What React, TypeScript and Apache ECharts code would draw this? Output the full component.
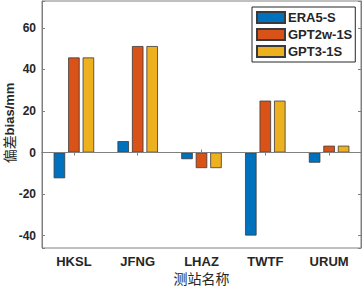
import React, { useEffect, useRef } from "react";
import * as echarts from "echarts";

const categories = ["HKSL", "JFNG", "LHAZ", "TWTF", "URUM"];
const era5 = [-12.4, 5.5, -3.2, -40.0, -4.9];
const gpt2w = [45.8, 51.3, -7.5, 25.0, 3.3];
const gpt3 = [45.8, 51.3, -7.5, 25.0, 3.3];
const seriesNames = ["ERA5-S", "GPT2w-1S", "GPT3-1S"];
const colors = ["#0072BD", "#D95319", "#EDB120"];
const yMin = -46;
const yMax = 73;

export default function App() {
  const ref = useRef<HTMLDivElement>(null);
  useEffect(() => {
    if (!ref.current) return;
    const chart = echarts.init(ref.current, null, { renderer: "svg" });
    const axisColor = "#808080";
    const labelFont = { fontFamily: "Liberation Sans, Arial, sans-serif", fontWeight: "bold" as const, color: "#262626" };
    const fmt = (v: number) => (v % 20 === 0 ? String(v) : "");
    const dataSets = [era5, gpt2w, gpt3];
    chart.setOption({
      animation: false,
      backgroundColor: "#ffffff",
      grid: { left: 42, right: 2, top: 1, bottom: 39, show: true, borderColor: axisColor, borderWidth: 1, backgroundColor: "transparent" },
      legend: {
        orient: "vertical",
        left: 252,
        top: 7,
        padding: [4, 3, 4, 4],
        itemGap: 4,
        itemWidth: 28,
        itemHeight: 11,
        borderColor: "#262626",
        borderWidth: 1,
        backgroundColor: "#ffffff",
        textStyle: { ...labelFont, fontSize: 13, padding: [0, 0, 0, -2] },
        data: seriesNames,
        icon: "rect",
      },
      xAxis: [
        {
          type: "category",
          data: categories,
          position: "bottom",
          axisLine: { show: true, lineStyle: { color: axisColor } },
          axisTick: { show: true, inside: true, length: 3, alignWithLabel: true, lineStyle: { color: axisColor } },
          axisLabel: { ...labelFont, fontSize: 13, margin: 7 },
          splitLine: { show: false },
        },
        {
          type: "category",
          data: categories,
          position: "top",
          axisLine: { show: true, lineStyle: { color: axisColor } },
          axisTick: { show: true, inside: true, length: 3, alignWithLabel: true, lineStyle: { color: axisColor } },
          axisLabel: { show: false },
          splitLine: { show: false },
        },
      ],
      yAxis: [
        {
          type: "value",
          min: yMin,
          max: yMax,
          position: "left",
          axisLine: { show: true, lineStyle: { color: axisColor } },
          axisTick: { show: true, inside: true, length: 3, lineStyle: { color: axisColor } },
          axisLabel: { ...labelFont, fontSize: 12, margin: 6, formatter: fmt, showMinLabel: true, showMaxLabel: true },
          splitLine: { show: false },
        },
        {
          type: "value",
          min: yMin,
          max: yMax,
          position: "right",
          axisLine: { show: true, lineStyle: { color: axisColor } },
          axisTick: { show: true, inside: true, length: 3, lineStyle: { color: axisColor } },
          axisLabel: { show: false },
          splitLine: { show: false },
        },
      ],
      series: seriesNames.map((name, i) => ({
        name,
        type: "bar",
        data: dataSets[i],
        barWidth: 11.5,
        barGap: "26%",
        itemStyle: { color: colors[i], borderColor: "#3a3a3a", borderWidth: 0.8 },
        ...(i === 0
          ? {
              markLine: {
                silent: true,
                symbol: "none",
                label: { show: false },
                lineStyle: { color: axisColor, type: "solid", width: 1 },
                data: [{ yAxis: 0 }],
              },
            }
          : {}),
      })),
      graphic: [
        {
          type: "text",
          x: 9,
          y: 123,
          rotation: Math.PI / 2,
          style: {
            text: "{a|偏差}{b|bias/mm}",
            align: "center",
            verticalAlign: "middle",
            rich: {
              a: { fontFamily: "Noto Sans CJK SC", fontSize: 14, fill: "#262626" },
              b: { fontFamily: "Liberation Sans, Arial, sans-serif", fontWeight: "bold", fontSize: 13, fill: "#262626" },
            },
          },
        },
        {
          type: "text",
          x: 201.5,
          y: 278,
          style: {
            text: "测站名称",
            align: "center",
            verticalAlign: "middle",
            fontFamily: "Noto Sans CJK SC",
            fontSize: 14,
            lineHeight: 14,
            fill: "#262626",
          },
        },
      ],
    });
    return () => chart.dispose();
  }, []);
  return <div ref={ref} style={{ width: 363, height: 287, position: "absolute", left: 0, top: 0 }} />;
}
